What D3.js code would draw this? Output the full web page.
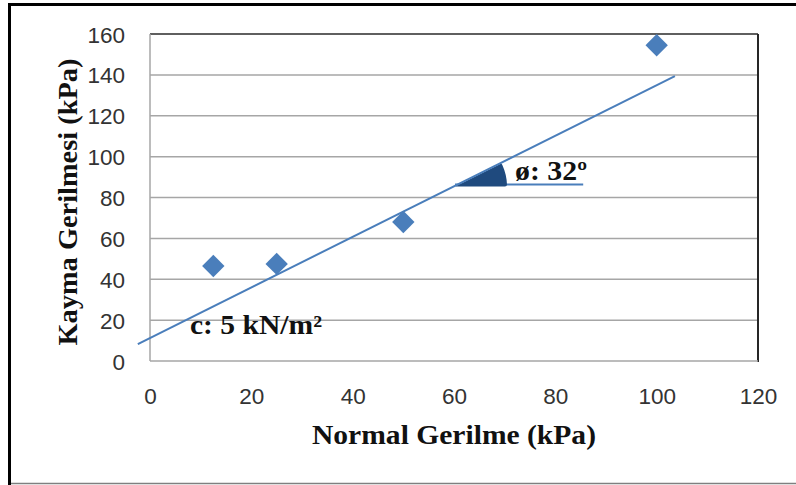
<!DOCTYPE html>
<html>
<head>
<meta charset="utf-8">
<script src="https://cdn.jsdelivr.net/npm/d3@7"></script>
<style>
  html, body { margin: 0; padding: 0; background: #fff; }
  svg { display: block; }
</style>
</head>
<body>
<div id="chart"></div>
<script>
'use strict';

// direct shear test results
const normalStress = [12.5, 25, 50, 100];
const shearStress = [46.5, 47.5, 68, 154.5];

// hand-drawn failure envelope (start / end points)
const envelopeX = [-2.4, 103.6];
const envelopeY = [8.3, 139.4];

// friction angle marker
const angleBase = [60.2, 85.5];   // x range of horizontal reference
const angleLevel = 85.4;          // y level of horizontal reference

const xTicks = [0, 20, 40, 60, 80, 100, 120];
const yTicks = [0, 20, 40, 60, 80, 100, 120, 140, 160];

const width = 796, height = 485;
const plot = { left: 150, right: 758, top: 34, bottom: 361 };

const svg = d3.select('#chart')
  .append('svg')
  .attr('width', width)
  .attr('height', height);

const x = d3.scaleLinear().domain([0, 120]).range([plot.left, plot.right]);
const y = d3.scaleLinear().domain([0, 160]).range([plot.bottom, plot.top]);

// outer frame
svg.append('line')
  .attr('x1', 9.5).attr('x2', 9.5).attr('y1', 3).attr('y2', 485)
  .attr('stroke', '#000').attr('stroke-width', 3);
svg.append('line')
  .attr('x1', 8).attr('x2', width).attr('y1', 4.5).attr('y2', 4.5)
  .attr('stroke', '#000').attr('stroke-width', 3);
svg.append('line')
  .attr('x1', 11).attr('x2', width).attr('y1', 483.5).attr('y2', 483.5)
  .attr('stroke', '#7f7f7f').attr('stroke-width', 1.5);

// gridlines
svg.append('g')
  .selectAll('line')
  .data(yTicks.filter(d => d > 0))
  .join('line')
  .attr('x1', plot.left).attr('x2', plot.right)
  .attr('y1', d => y(d)).attr('y2', d => y(d))
  .attr('stroke', '#a6a6a6').attr('stroke-width', 1.5);

// plot area border
svg.append('line')
  .attr('x1', plot.left).attr('x2', plot.right)
  .attr('y1', y(160)).attr('y2', y(160))
  .attr('stroke', '#404040').attr('stroke-width', 1.5);
svg.append('line')
  .attr('x1', plot.right).attr('x2', plot.right)
  .attr('y1', plot.top).attr('y2', plot.bottom + 1)
  .attr('stroke', '#262626').attr('stroke-width', 2);
svg.append('line')
  .attr('x1', plot.left).attr('x2', plot.left)
  .attr('y1', plot.top).attr('y2', plot.bottom)
  .attr('stroke', '#a6a6a6').attr('stroke-width', 1.5);
svg.append('line')
  .attr('x1', plot.left).attr('x2', plot.right)
  .attr('y1', y(0)).attr('y2', y(0))
  .attr('stroke', '#a6a6a6').attr('stroke-width', 1.5);

// axes (labels only)
const xAxis = svg.append('g')
  .attr('transform', `translate(0,${plot.bottom + 43})`)
  .call(d3.axisBottom(x).tickValues(xTicks).tickSize(0).tickPadding(0));
const yAxis = svg.append('g')
  .attr('transform', `translate(${plot.left - 25},0)`)
  .call(d3.axisLeft(y).tickValues(yTicks).tickSize(0).tickPadding(0));

[xAxis, yAxis].forEach(g => {
  g.select('.domain').remove();
  g.selectAll('text')
    .attr('font-family', '"Liberation Sans", Arial, sans-serif')
    .attr('font-size', 22.5)
    .attr('fill', '#333');
});
xAxis.selectAll('text').attr('dy', 0);
yAxis.selectAll('text').attr('dy', '0.36em');

// bold serif text, stretched to the width seen in the picture
function serifLabel(sel, str, len) {
  return sel
    .attr('font-family', '"Liberation Serif", "Times New Roman", serif')
    .attr('font-weight', 'bold')
    .attr('font-size', 27)
    .attr('fill', '#111')
    .attr('textLength', len)
    .attr('lengthAdjust', 'spacingAndGlyphs')
    .text(str);
}

// axis titles
serifLabel(svg.append('text')
  .attr('x', 454).attr('y', 444)
  .attr('text-anchor', 'middle'), 'Normal Gerilme (kPa)', 284);
serifLabel(svg.append('text')
  .attr('transform', 'translate(77,202) rotate(-90)')
  .attr('text-anchor', 'middle'), 'Kayma Gerilmesi (kPa)', 287);

// failure envelope
const vx = x(angleBase[0]);
const vy = y(angleLevel);
const dx = x(envelopeX[1]) - x(envelopeX[0]);
const dy = y(envelopeY[0]) - y(envelopeY[1]);
const screenAngle = Math.atan2(dy, dx);

svg.append('line')
  .attr('x1', vx).attr('x2', x(angleBase[1]))
  .attr('y1', vy - 2).attr('y2', vy - 2)
  .attr('stroke', '#4a7ebb').attr('stroke-width', 2);

// friction angle wedge
svg.append('path')
  .attr('transform', `translate(${vx},${vy})`)
  .attr('d', d3.arc()
    .innerRadius(0)
    .outerRadius(52)
    .cornerRadius(2)
    .startAngle(Math.PI / 2 - screenAngle)
    .endAngle(Math.PI / 2)())
  .attr('fill', '#1f4a7e');

svg.append('line')
  .attr('x1', x(envelopeX[0])).attr('y1', y(envelopeY[0]))
  .attr('x2', x(envelopeX[1])).attr('y2', y(envelopeY[1]))
  .attr('stroke', '#4a7ebb').attr('stroke-width', 2);

// data points
svg.append('g')
  .selectAll('path')
  .data(normalStress.map((d, i) => [d, shearStress[i]]))
  .join('path')
  .attr('transform', d => `translate(${x(d[0])},${y(d[1])}) rotate(45)`)
  .attr('d', d3.symbol(d3.symbolSquare, 250)())
  .attr('fill', '#4a7ebb');

// annotations
serifLabel(svg.append('text')
  .attr('x', 515).attr('y', 180), 'ø: 32º', 72);
serifLabel(svg.append('text')
  .attr('x', 190).attr('y', 334), 'c: 5 kN/m²', 132);
</script>
</body>
</html>
